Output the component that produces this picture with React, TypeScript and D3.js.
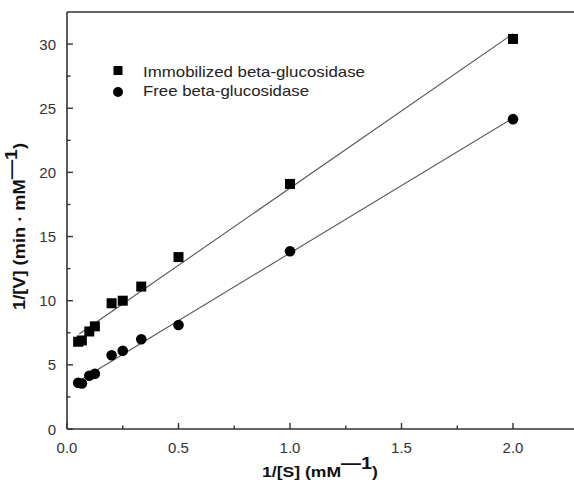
import React from "react";
import * as d3 from "d3";

const xValues = [0.05, 0.0667, 0.1, 0.125, 0.2, 0.25, 0.333, 0.5, 1.0, 2.0];
const immobilized = [6.8, 6.9, 7.6, 8.0, 9.8, 10.0, 11.1, 13.4, 19.1, 30.4];
const free = [3.6, 3.55, 4.15, 4.3, 5.75, 6.1, 7.0, 8.1, 13.85, 24.15];
const xTicks = [0, 0.5, 1.0, 1.5, 2.0];
const xMinor = [0.25, 0.75, 1.25, 1.75];
const yTicks = [0, 5, 10, 15, 20, 25, 30];
const yMinor = [2.5, 7.5, 12.5, 17.5, 22.5, 27.5];
const legendLabels = ["Immobilized beta-glucosidase", "Free beta-glucosidase"];

function fit(xs: number[], ys: number[]) {
  const n = xs.length;
  const mx = d3.mean(xs)!;
  const my = d3.mean(ys)!;
  let sxy = 0, sxx = 0;
  for (let i = 0; i < n; i++) {
    sxy += (xs[i] - mx) * (ys[i] - my);
    sxx += (xs[i] - mx) ** 2;
  }
  const b = sxy / sxx;
  return { a: my - b * mx, b };
}

export default function App() {
  const W = 574, H = 483;
  const x = d3.scaleLinear().domain([0, 2.3]).range([67, 67 + 2.3 * 223]);
  const y = d3.scaleLinear().domain([0, 32.5]).range([429, 12]);
  const font = "Liberation Sans, Arial, sans-serif";
  const axisColor = "#333";
  const fits = [fit(xValues, immobilized), fit(xValues, free)];
  const x0 = xValues[0] + 0.005, x1 = xValues[xValues.length - 1];
  const line = d3.line<[number, number]>().x(d => x(d[0])).y(d => y(d[1]));

  return (
    <svg width={W} height={H} style={{ position: "absolute", left: 0, top: 0, background: "#fff" }}>
      <rect width={W} height={H} fill="#fff" />
      {/* frame */}
      <line x1={x(0)} x2={W + 10} y1={y(0)} y2={y(0)} stroke={axisColor} strokeWidth={1.6} />
      <line x1={x(0)} x2={W + 10} y1={12} y2={12} stroke={axisColor} strokeWidth={1.6} />
      <line x1={x(0)} x2={x(0)} y1={12} y2={y(0)} stroke={axisColor} strokeWidth={1.6} />
      {/* x ticks */}
      {xTicks.map(t => (
        <g key={"xt" + t}>
          <line x1={x(t)} x2={x(t)} y1={y(0)} y2={y(0) - 6} stroke={axisColor} strokeWidth={1.4} />
          <text x={x(t)} y={y(0) + 24} textAnchor="middle" fontFamily={font} fontSize={15} fill="#333">{t.toFixed(1)}</text>
        </g>
      ))}
      {xMinor.map(t => (
        <line key={"xm" + t} x1={x(t)} x2={x(t)} y1={y(0)} y2={y(0) - 3.5} stroke={axisColor} strokeWidth={1.4} />
      ))}
      {/* y ticks */}
      {yTicks.map(t => (
        <g key={"yt" + t}>
          <line x1={x(0)} x2={x(0) + 6} y1={y(t)} y2={y(t)} stroke={axisColor} strokeWidth={1.4} />
          <text x={56} y={y(t) + 5.5} textAnchor="end" fontFamily={font} fontSize={15} fill="#333">{t}</text>
        </g>
      ))}
      {yMinor.map(t => (
        <line key={"ym" + t} x1={x(0)} x2={x(0) + 3.5} y1={y(t)} y2={y(t)} stroke={axisColor} strokeWidth={1.4} />
      ))}
      {/* fit lines */}
      {fits.map((f, i) => (
        <path key={"f" + i} d={line([[x0, f.a + f.b * x0], [x1, f.a + f.b * x1]])!} stroke="#555" strokeWidth={1.1} fill="none" />
      ))}
      {/* points */}
      {xValues.map((v, i) => (
        <rect key={"s" + i} x={x(v) - 5} y={y(immobilized[i]) - 5} width={10} height={10} fill="#000" />
      ))}
      {xValues.map((v, i) => (
        <circle key={"c" + i} cx={x(v)} cy={y(free[i])} r={5.3} fill="#000" />
      ))}
      {/* legend */}
      <rect x={113.5} y={66} width={9} height={9} fill="#000" />
      <text x={143} y={76.5} fontFamily={font} fontSize={15} fill="#222" textLength={222} lengthAdjust="spacingAndGlyphs">{legendLabels[0]}</text>
      <circle cx={118} cy={92} r={5} fill="#000" />
      <text x={143} y={96} fontFamily={font} fontSize={15} fill="#222" textLength={166} lengthAdjust="spacingAndGlyphs">{legendLabels[1]}</text>
      {/* axis titles */}
      <text x={262} y={477} fontFamily={font} fontSize={15} fontWeight="bold" fill="#111" textLength={116} lengthAdjust="spacingAndGlyphs">
        1/[S] (mM<tspan dy={-8} fontSize={17}>—1</tspan><tspan dy={8}>)</tspan>
      </text>
      <text transform="translate(25,310) rotate(-90)" fontFamily={font} fontSize={16} fontWeight="bold" fill="#111" textLength={167} lengthAdjust="spacingAndGlyphs">
        1/[V] (min · mM<tspan dy={-8} fontSize={17}>—1</tspan><tspan dy={8}>)</tspan>
      </text>
    </svg>
  );
}
